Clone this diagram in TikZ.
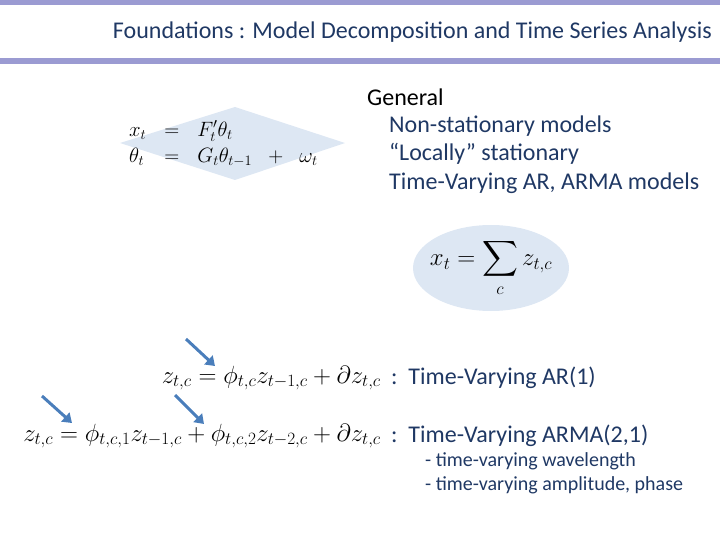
\documentclass[tikz,border=0pt]{standalone}
\usepackage{fontspec}
\setmainfont{Carlito}
\usepackage{amsmath}
\usetikzlibrary{shapes.geometric,arrows.meta}
\definecolor{bar}{HTML}{9B9BD2}
\definecolor{navy}{HTML}{1F3864}
\definecolor{paleblue}{HTML}{DDE7F3}
\definecolor{arr}{HTML}{4A7EBB}
\tikzset{
  txt/.style={anchor=west,inner sep=0pt,font=\fontsize{24}{28}\selectfont,text=navy},
  eq/.style={inner sep=0pt,font=\fontsize{24}{28}\selectfont},
  pointer/.style={draw=arr,line width=3pt,-{Triangle[length=9pt,width=12pt]}}
}
\begin{document}
\begin{tikzpicture}[x=1pt,y=-1pt]
\useasboundingbox (0,0) rectangle (720,540);
\fill[bar] (0,0) rectangle (720,5);
\fill[bar] (0,58) rectangle (720,64);
\node[anchor=east,inner sep=0pt,font=\fontsize{24}{28}\selectfont,text=navy] (title) at (712,32) {Foundations : Model Decomposition and Time Series Analysis};
\fill[paleblue] (120,143) -- (235,107) -- (345,143) -- (235,180) -- cycle;
\node[eq,anchor=west,font=\fontsize{22}{26}\selectfont] (dlm) at (120,144) {$\arraycolsep=9pt\begin{array}{lcl} x_t &=& F_t'\theta_t\\ \theta_t &=& G_t\theta_{t-1} \;\;+\;\; \omega_t\end{array}$};
\node[anchor=west,inner sep=0pt,font=\fontsize{24}{28}\selectfont] (gen) at (367,97) {General};
\node[txt] (ns) at (389,126) {Non-stationary models};
\node[txt] (ls) at (389,154) {“Locally” stationary};
\node[txt] (tv) at (389,183) {Time-Varying AR, ARMA models};
\node[ellipse,fill=paleblue,minimum width=156pt,minimum height=86pt,inner sep=0pt] (sum) at (491,268) {};
\node[eq] (sumeq) at (491,268) {$x_t=\displaystyle\sum_c z_{t,c}$};
\node[eq,anchor=east] (ar) at (381,378) {$z_{t,c}=\phi_{t,c}z_{t-1,c}+\partial z_{t,c}$};
\node[anchor=west,inner sep=0pt,font=\fontsize{24}{28}\selectfont,text=navy] (arl) at (391,378) {:\ \ Time-Varying AR(1)};
\node[eq,anchor=east] (arma) at (381,436) {$z_{t,c}=\phi_{t,c,1}z_{t-1,c}+\phi_{t,c,2}z_{t-2,c}+\partial z_{t,c}$};
\node[anchor=west,inner sep=0pt,font=\fontsize{24}{28}\selectfont,text=navy] (armal) at (391,436) {:\ \ Time-Varying ARMA(2,1)};
\node[anchor=west,inner sep=0pt,font=\fontsize{20}{24}\selectfont,text=navy] (w1) at (425,461) {- time-varying wavelength};
\node[anchor=west,inner sep=0pt,font=\fontsize{20}{24}\selectfont,text=navy] (w2) at (425,485) {- time-varying amplitude, phase};
\coordinate (a1s) at (186,339); \coordinate (a1e) at (215,366);
\coordinate (a2s) at (42,396); \coordinate (a2e) at (72,423);
\coordinate (a3s) at (175,395); \coordinate (a3e) at (204,424);
\draw[pointer] (a1s) -- (a1e);
\draw[pointer] (a2s) -- (a2e);
\draw[pointer] (a3s) -- (a3e);
\end{tikzpicture}
\end{document}
